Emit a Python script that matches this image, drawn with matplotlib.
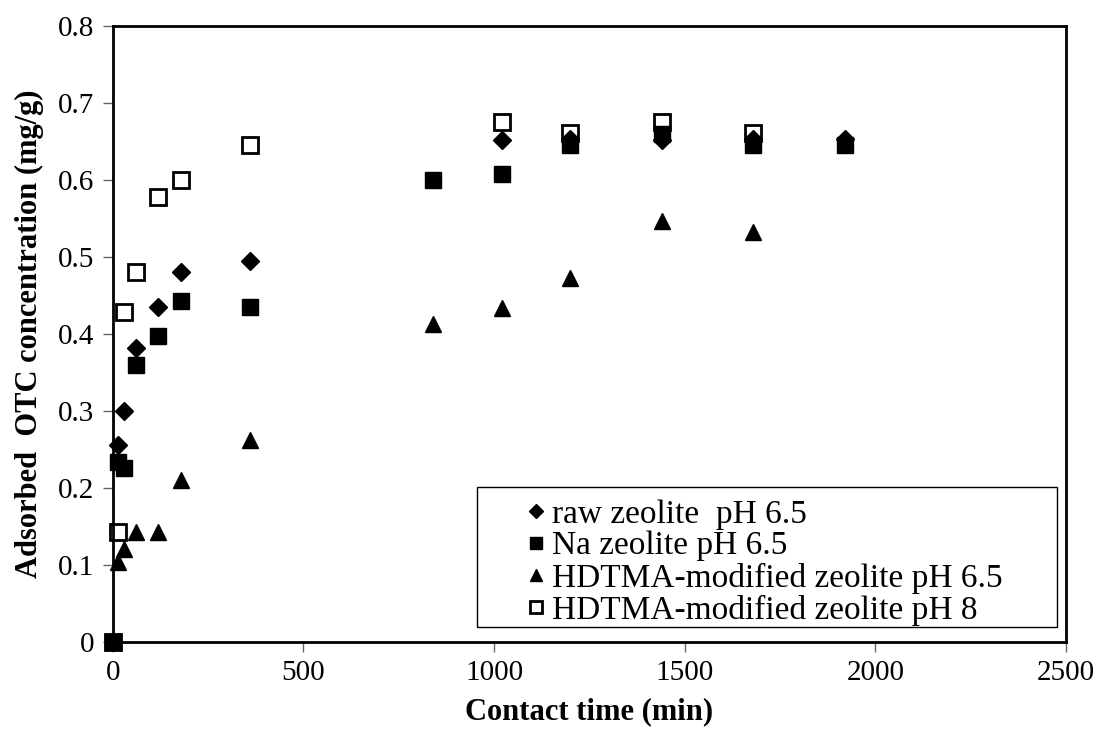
import numpy as np
import matplotlib.pyplot as plt
from matplotlib.patches import Rectangle
from matplotlib.ticker import FuncFormatter

plt.rcParams['font.family'] = ['Liberation Serif', 'DejaVu Serif']

# kontakttid (min) og adsorbert mengde (mg/g)
t_raw = [0, 15, 30, 60, 120, 180, 360, 1020, 1200, 1440, 1680, 1920]
q_raw = [0, 0.255, 0.300, 0.382, 0.435, 0.480, 0.495, 0.652, 0.653, 0.652, 0.653, 0.653]

t_na = [0, 15, 30, 60, 120, 180, 360, 840, 1020, 1200, 1440, 1680, 1920]
q_na = [0, 0.233, 0.225, 0.360, 0.397, 0.443, 0.435, 0.600, 0.607, 0.645, 0.660, 0.645, 0.645]

t_hd65 = [0, 15, 30, 60, 120, 180, 360, 840, 1020, 1200, 1440, 1680]
q_hd65 = [0, 0.104, 0.120, 0.142, 0.142, 0.210, 0.262, 0.413, 0.433, 0.472, 0.547, 0.532]

t_hd8 = [0, 15, 30, 60, 120, 180, 360, 1020, 1200, 1440, 1680]
q_hd8 = [0, 0.143, 0.428, 0.480, 0.578, 0.600, 0.645, 0.675, 0.661, 0.675, 0.661]

etiketter = ['raw zeolite  pH 6.5', 'Na zeolite pH 6.5',
             'HDTMA-modified zeolite pH 6.5', 'HDTMA-modified zeolite pH 8']

fig = plt.figure(figsize=(10.99, 7.47), dpi=100)
ax = fig.add_axes([0.1025, 0.141, 0.8675, 0.8245])

h8, = ax.plot(t_hd8, q_hd8, 's', ms=12, mfc='white', mec='black', mew=2,
              zorder=2, clip_on=False)
hr, = ax.plot(t_raw, q_raw, 'D', ms=9, color='black', zorder=3, clip_on=False)
hn, = ax.plot(t_na, q_na, 's', ms=12, color='black', zorder=4, clip_on=False)
h65, = ax.plot(t_hd65, q_hd65, '^', ms=12, color='black', zorder=5, clip_on=False)
hn.set_zorder(6)  # punktet i origo ligger øverst

ax.set_xlim(0, 2500)
ax.set_ylim(0, 0.8)
ax.set_xticks(np.arange(0, 2501, 500))
ax.set_yticks(np.arange(0, 0.81, 0.1))
ax.yaxis.set_major_formatter(FuncFormatter(lambda v, p: '0' if abs(v) < 1e-9 else f'{v:.1f}'))
ax.tick_params(direction='out', length=7, width=1, color='0.4', labelsize=21, pad=6)
for s in ax.spines.values():
    s.set_linewidth(2)

ax.set_xlabel('Contact time (min)', fontsize=22, fontweight='bold', labelpad=8)
ax.set_ylabel('Adsorbed  OTC concentration (mg/g)', fontsize=22, fontweight='bold', labelpad=10)

# ramme rundt forklaringen
fig.patches.append(Rectangle((477 / 1099, 1 - 627 / 747), 580 / 1099, 140 / 747,
                             transform=fig.transFigure, fc='white', ec='black',
                             lw=1, zorder=10))
leg = fig.legend([hr, hn, h65, h8], etiketter, loc='upper left',
                 bbox_to_anchor=(527 / 1099, 1 - 499 / 747), frameon=False,
                 fontsize=24, handlelength=0.55, handletextpad=0.2,
                 labelspacing=0.04, borderpad=0, borderaxespad=0, markerscale=0.75)
leg.set_zorder(11)

fig.savefig('out.png', dpi=100)
